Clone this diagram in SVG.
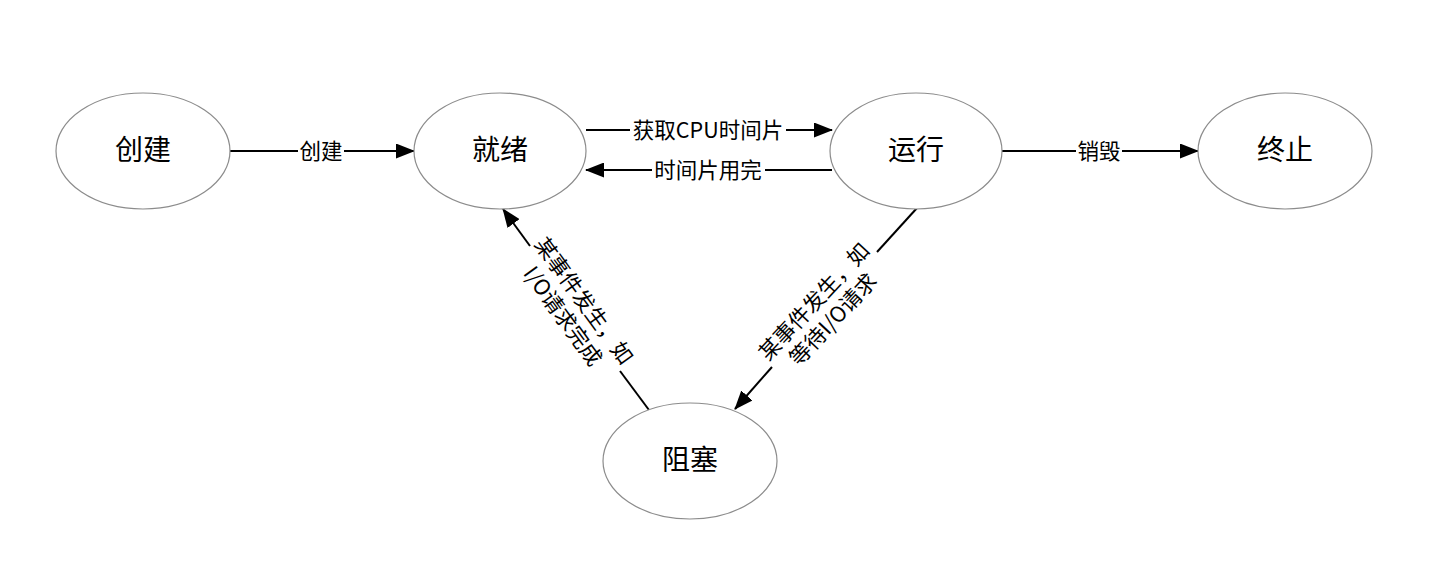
<svg xmlns="http://www.w3.org/2000/svg" width="1456" height="584" viewBox="0 0 1456 584">
<style>
.node ellipse{fill:#fff;stroke:#8c8c8c;stroke-width:1.2}
.node text{font-family:"Noto Sans CJK SC","Microsoft YaHei",sans-serif;font-size:28px;fill:#000;text-anchor:middle;dominant-baseline:central}
#edges line{stroke:#000;stroke-width:2;fill:none}
.lbl{font-family:"Noto Sans CJK SC",sans-serif;font-size:21.5px;fill:#000;text-anchor:middle;dominant-baseline:central}
</style>
<defs>
<marker id="ah" markerWidth="19" markerHeight="15" refX="18" refY="7.5" orient="auto" markerUnits="userSpaceOnUse">
<path d="M0,0 L19,7.5 L0,15 Z" fill="#000"/>
</marker>
</defs>
<rect width="1456" height="584" fill="#fff"/>
<g id="edges">
<line x1="230" y1="151" x2="298" y2="151"/>
<line x1="344" y1="151" x2="414" y2="151" marker-end="url(#ah)"/>
<text class="lbl" x="321" y="149">创建</text>

<line x1="586" y1="130" x2="630" y2="130"/>
<line x1="786" y1="130" x2="832" y2="130" marker-end="url(#ah)"/>
<text class="lbl" x="708" y="128">获取CPU时间片</text>

<line x1="832" y1="170" x2="765" y2="170"/>
<line x1="652" y1="170" x2="586" y2="170" marker-end="url(#ah)"/>
<text class="lbl" x="708" y="168">时间片用完</text>

<line x1="1002" y1="151" x2="1076" y2="151"/>
<line x1="1122" y1="151" x2="1198" y2="151" marker-end="url(#ah)"/>
<text class="lbl" x="1099" y="149">销毁</text>

<line x1="649" y1="410" x2="620" y2="371"/>
<line x1="530" y1="246" x2="503" y2="209" marker-end="url(#ah)"/>
<g transform="translate(574,308) rotate(54)">
<text class="lbl" x="0" y="-14">某事件发生，如</text>
<text class="lbl" x="0" y="12">I/O请求完成</text>
</g>

<line x1="917" y1="208" x2="877" y2="252"/>
<line x1="772" y1="367" x2="735" y2="409" marker-end="url(#ah)"/>
<g transform="translate(823,310) rotate(-47)">
<text class="lbl" x="0" y="-14">某事件发生，如</text>
<text class="lbl" x="0" y="12">等待I/O请求</text>
</g>
</g>
<g id="n_create" class="node"><ellipse cx="143" cy="151" rx="87" ry="58"/><text x="143" y="148">创建</text></g>
<g id="n_ready" class="node"><ellipse cx="500" cy="151" rx="86" ry="58"/><text x="500" y="148">就绪</text></g>
<g id="n_run" class="node"><ellipse cx="916" cy="151" rx="86" ry="58"/><text x="916" y="148">运行</text></g>
<g id="n_end" class="node"><ellipse cx="1285" cy="151" rx="87" ry="58"/><text x="1285" y="148">终止</text></g>
<g id="n_block" class="node"><ellipse cx="690" cy="461" rx="87" ry="58"/><text x="690" y="458">阻塞</text></g>
</svg>
